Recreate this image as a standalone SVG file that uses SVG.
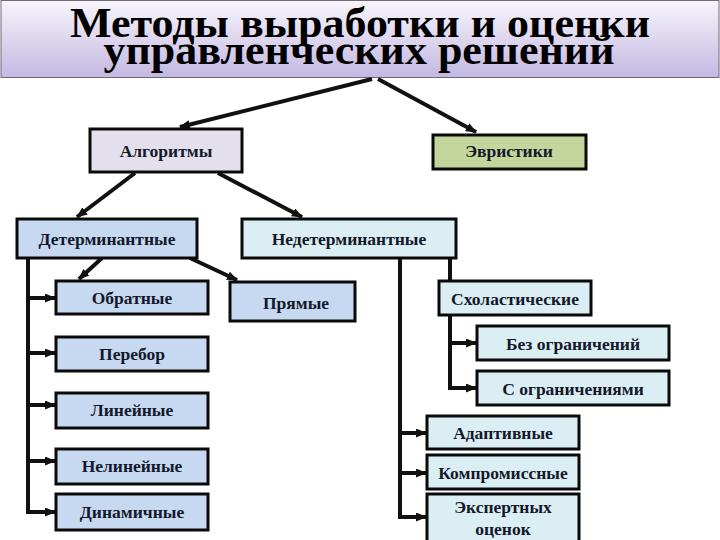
<svg xmlns="http://www.w3.org/2000/svg" width="720" height="540" viewBox="0 0 720 540">
<defs>
<linearGradient id="tg" x1="0" y1="0" x2="0" y2="1">
<stop offset="0" stop-color="#f7f5fb"/>
<stop offset="1" stop-color="#c4b8e2"/>
</linearGradient>
<marker id="ah" markerUnits="userSpaceOnUse" markerWidth="11" markerHeight="9" refX="10" refY="4.5" orient="auto">
<path d="M0,0 L11,4.5 L0,9 z" fill="#111"/>
</marker>
<style>
.box{stroke:#0a0a0a;stroke-width:3}
.lav{fill:#e4dfec}
.grn{fill:#c4d69b}
.blu{fill:#c6d9f1}
.cyn{fill:#dbeef4}
.lbl{font-weight:bold;font-size:17.5px;fill:#14182a;text-anchor:middle}
.ttl{font-weight:bold;font-size:43px;fill:#000;text-anchor:middle}
.c{fill:none;stroke:#111;stroke-width:4}
.ca{fill:none;stroke:#111;stroke-width:4;marker-end:url(#ah)}
</style>
</defs>
<rect width="720" height="540" fill="#fff"/>
<g id="title" font-family="Liberation Serif, DejaVu Serif, serif">
<rect x="1" y="0.5" width="718" height="77" fill="url(#tg)" stroke="#6b6b7a" stroke-width="1"/>
<text class="ttl" x="360" y="37" textLength="580" lengthAdjust="spacingAndGlyphs">Методы выработки и оценки</text>
<text class="ttl" x="359" y="64" textLength="511" lengthAdjust="spacingAndGlyphs">управленческих решений</text>
</g>
<g id="connectors">
<path class="ca" d="M372,79 L180,127"/>
<path class="ca" d="M378,79 L476,132"/>
<path class="ca" d="M135,173 L77,217"/>
<path class="ca" d="M218,173 L302,217"/>
<path class="ca" d="M102,258 L79,279"/>
<path class="ca" d="M190,258 L237,280"/>
<path class="c" d="M28,258 V514"/>
<path class="ca" d="M28,298 H55"/>
<path class="ca" d="M28,353 H55"/>
<path class="ca" d="M28,405 H55"/>
<path class="ca" d="M28,461 H55"/>
<path class="ca" d="M28,512 H55"/>
<path class="c" d="M400,258 V519"/>
<path class="ca" d="M400,433 H426"/>
<path class="ca" d="M400,473 H426"/>
<path class="ca" d="M400,517 H426"/>
<path class="c" d="M450,258 V281"/>
<path class="c" d="M450,315 V390"/>
<path class="ca" d="M450,343 H476"/>
<path class="ca" d="M450,388 H476"/>
</g>
<g font-family="Liberation Serif, DejaVu Serif, serif">
<g id="n-algoritmy"><rect class="box lav" x="90" y="129" width="152" height="43"/><text class="lbl" x="166" y="157">Алгоритмы</text></g>
<g id="n-evristiki"><rect class="box grn" x="433" y="135" width="153" height="34"/><text class="lbl" x="509" y="157">Эвристики</text></g>
<g id="n-determ"><rect class="box blu" x="17" y="219" width="180" height="39"/><text class="lbl" x="107" y="245">Детерминантные</text></g>
<g id="n-nedeterm"><rect class="box cyn" x="242" y="219" width="214" height="39"/><text class="lbl" x="349" y="245">Недетерминантные</text></g>
<g id="n-obratnye"><rect class="box blu" x="56" y="281" width="152" height="33"/><text class="lbl" x="132" y="304">Обратные</text></g>
<g id="n-pryamye"><rect class="box blu" x="230" y="282" width="125" height="39"/><text class="lbl" x="296" y="309">Прямые</text></g>
<g id="n-skholast"><rect class="box cyn" x="439" y="281" width="152" height="34"/><text class="lbl" x="515" y="305">Схоластические</text></g>
<g id="n-perebor"><rect class="box blu" x="56" y="337" width="152" height="34"/><text class="lbl" x="132" y="360">Перебор</text></g>
<g id="n-bez"><rect class="box cyn" x="477" y="326" width="192" height="34"/><text class="lbl" x="573" y="350">Без ограничений</text></g>
<g id="n-s"><rect class="box cyn" x="477" y="371" width="192" height="34"/><text class="lbl" x="573" y="395">С ограничениями</text></g>
<g id="n-lineinye"><rect class="box blu" x="56" y="393" width="152" height="35"/><text class="lbl" x="132" y="416">Линейные</text></g>
<g id="n-adapt"><rect class="box cyn" x="427" y="416" width="152" height="33"/><text class="lbl" x="503" y="439">Адаптивные</text></g>
<g id="n-nelin"><rect class="box blu" x="56" y="449" width="152" height="35"/><text class="lbl" x="132" y="472">Нелинейные</text></g>
<g id="n-kompr"><rect class="box cyn" x="427" y="455" width="152" height="34"/><text class="lbl" x="503" y="479">Компромиссные</text></g>
<g id="n-dinam"><rect class="box blu" x="56" y="494" width="152" height="36"/><text class="lbl" x="132" y="518">Динамичные</text></g>
<g id="n-ekspert"><rect class="box cyn" x="427" y="494" width="152" height="48"/><text class="lbl" x="503" y="513">Экспертных</text><text class="lbl" x="503" y="535">оценок</text></g>
</g>
</svg>
